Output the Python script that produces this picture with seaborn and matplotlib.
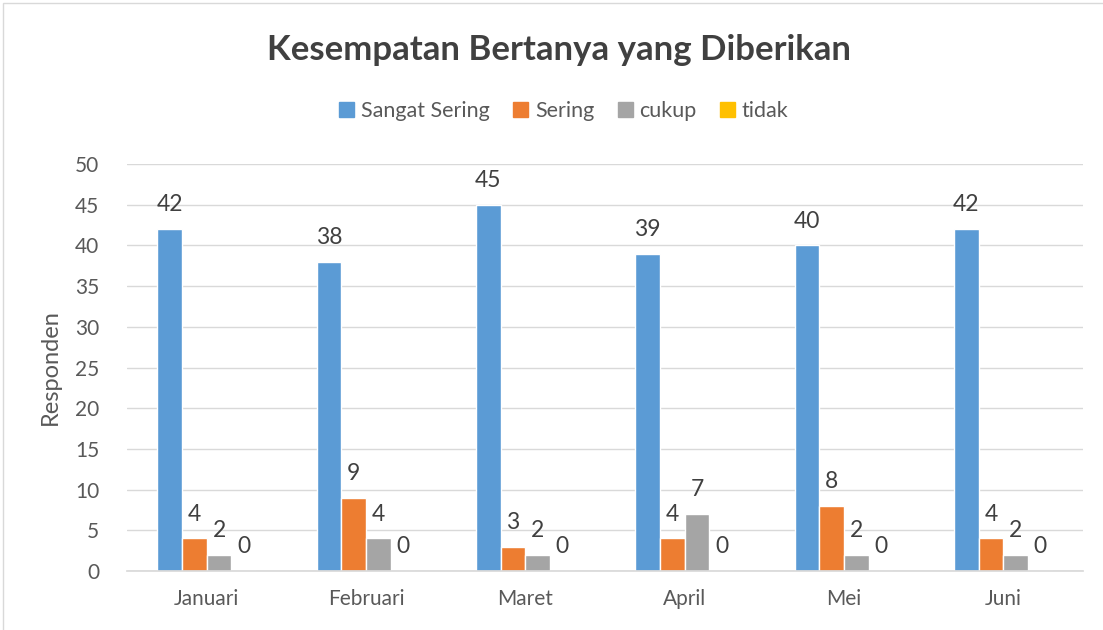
import matplotlib
matplotlib.use("Agg")
import matplotlib.pyplot as plt
import seaborn as sns
import pandas as pd
from matplotlib.patches import Rectangle

months = ["Januari", "Februari", "Maret", "April", "Mei", "Juni"]
series = ["Sangat Sering", "Sering", "cukup", "tidak"]
sangat_sering = [42, 38, 45, 39, 40, 42]
sering = [4, 9, 3, 4, 8, 4]
cukup = [2, 4, 2, 7, 2, 2]
tidak = [0, 0, 0, 0, 0, 0]
colors = ["#5B9BD5", "#ED7D31", "#A5A5A5", "#FFC000"]

rows = []
for name, vals in zip(series, [sangat_sering, sering, cukup, tidak]):
    for m, v in zip(months, vals):
        rows.append({"Bulan": m, "Kategori": name, "Nilai": v})
df = pd.DataFrame(rows)

sns.set_theme(style="white")
plt.rcParams['font.family'] = ['Lato', 'DejaVu Sans']
txt = "#595959"
dark = "#404040"

fig = plt.figure(figsize=(11.03, 6.30), dpi=100)
ax = fig.add_axes([127/1103, 59/630, (1083-127)/1103, (571-164)/630])

sns.barplot(data=df, x="Bulan", y="Nilai", hue="Kategori", order=months,
            hue_order=series, palette=colors, width=0.62, gap=0,
            saturation=1, ax=ax, legend=False)

for c in ax.containers:
    ax.bar_label(c, labels=[f"{int(v)}" for v in c.datavalues], padding=10,
                 fontsize=16.5, color=dark)

ax.set_ylim(0, 50)
ax.set_yticks(range(0, 51, 5))
ax.grid(axis="y", color="#D9D9D9", linewidth=1)
ax.set_axisbelow(True)
for s in ["top", "right", "left"]:
    ax.spines[s].set_visible(False)
ax.spines["bottom"].set_color("#D9D9D9")
ax.tick_params(axis="both", length=0, labelsize=15, colors=txt)
ax.tick_params(axis="y", pad=20)
ax.tick_params(axis="x", pad=13)
ax.set_xlabel("")
ax.set_ylabel("Responden", fontsize=17, color=txt, labelpad=10)

fig.text(559/1103, 1 - 50/630, "Kesempatan Bertanya yang Diberikan", ha="center",
         va="center", fontsize=25, fontweight="bold", color=dark)

handles = [Rectangle((0, 0), 1, 1, color=c) for c in colors]
fig.legend(handles, series, loc="center", bbox_to_anchor=(564/1103, 1 - 111/630),
           ncol=4, frameon=False, fontsize=15.5, handlelength=0.7,
           handleheight=0.7, handletextpad=0.3, columnspacing=1.1,
           labelcolor=txt)

fig.patches.append(Rectangle((3/1103, -0.1), 1.2, 1 + 0.1 - 3.5/630,
                             transform=fig.transFigure, fill=False,
                             edgecolor="#D9D9D9", linewidth=1))

fig.savefig("out.png", dpi=100)
